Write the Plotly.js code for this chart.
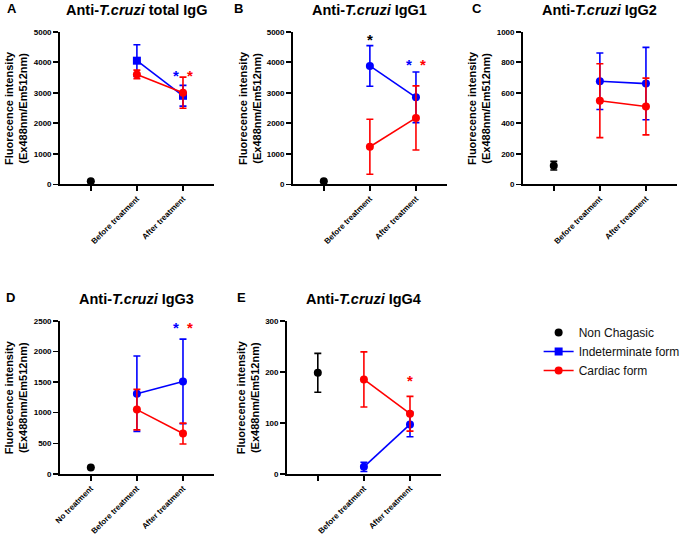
<!DOCTYPE html>
<html><head><meta charset="utf-8">
<script src="https://cdn.plot.ly/plotly-3.0.1.min.js"></script>
<style>html,body{margin:0;padding:0;background:#fff}#chart{width:685px;height:537px}</style>
</head><body><div id="chart"></div><script>
// ---------- data ----------
const categories = ['Non Chagasic', 'Before treatment', 'After treatment'];
const treatmentCats = ['Before treatment', 'After treatment'];
const tickLabelsDefault = ['', 'Before treatment', 'After treatment'];
const tickLabelsIgG3 = ['No treatment', 'Before treatment', 'After treatment'];
const seriesNames = ['Non Chagasic', 'Indeterminate form', 'Cardiac form'];

// A: total IgG
const totalIgG_non = [100], totalIgG_nonErr = [0];
const totalIgG_ind = [4050, 2900], totalIgG_indErr = [520, 340];
const totalIgG_card = [3600, 3000], totalIgG_cardErr = [140, 510];
const totalIgG_stars = [['ind', 'After treatment', 3710], ['card', 'After treatment', 3710]];

// B: IgG1
const igg1_non = [100], igg1_nonErr = [0];
const igg1_ind = [3880, 2850], igg1_indErr = [665, 830];
const igg1_card = [1230, 2175], igg1_cardErr = [900, 1050];
const igg1_stars = [['non', 'Before treatment', 4890], ['ind', 'After treatment', 4050], ['card', 'After treatment', 4050]];

// C: IgG2
const igg2_non = [122], igg2_nonErr = [28];
const igg2_ind = [675, 660], igg2_indErr = [185, 237];
const igg2_card = [548, 510], igg2_cardErr = [242, 186];
const igg2_stars = [];

// D: IgG3
const igg3_non = [105], igg3_nonErr = [0];
const igg3_ind = [1310, 1510], igg3_indErr = [615, 690];
const igg3_card = [1050, 660], igg3_cardErr = [330, 170];
const igg3_stars = [['ind', 'After treatment', 2456], ['card', 'After treatment', 2456]];

// E: IgG4
const igg4_non = [198], igg4_nonErr = [38];
const igg4_ind = [14, 97], igg4_indErr = [9, 24];
const igg4_card = [185, 118], igg4_cardErr = [54, 34];
const igg4_stars = [['card', 'After treatment', 190]];

// ---------- layout helpers ----------
const W = 685, H = 537;
const FONT = 'Liberation Sans, Arial, Helvetica, sans-serif';
const COL = {non: '#000000', ind: '#0000ff', card: '#ff0000'};

const panels = [
  {letter: 'A', title: 'Anti-<i>T.cruzi</i> total IgG', x0: 60, top: 31.7, bottom: 184.3, yrange: [0, 5000], dtick: 1000,
   ticks: tickLabelsDefault, non: totalIgG_non, nonErr: totalIgG_nonErr, ind: totalIgG_ind, indErr: totalIgG_indErr,
   card: totalIgG_card, cardErr: totalIgG_cardErr, stars: totalIgG_stars, indSymbol: 'square', ytitleX: 16, letterX: 5},
  {letter: 'B', title: 'Anti-<i>T.cruzi</i> IgG1', x0: 294, top: 31.7, bottom: 184.3, yrange: [0, 5000], dtick: 1000,
   ticks: tickLabelsDefault, non: igg1_non, nonErr: igg1_nonErr, ind: igg1_ind, indErr: igg1_indErr,
   card: igg1_card, cardErr: igg1_cardErr, stars: igg1_stars, indSymbol: 'circle', ytitleX: 251, letterX: 233},
  {letter: 'C', title: 'Anti-<i>T.cruzi</i> IgG2', x0: 525, top: 31.7, bottom: 184.3, yrange: [0, 1000], dtick: 200,
   ticks: tickLabelsDefault, non: igg2_non, nonErr: igg2_nonErr, ind: igg2_ind, indErr: igg2_indErr,
   card: igg2_card, cardErr: igg2_cardErr, stars: igg2_stars, indSymbol: 'circle', ytitleX: 481, letterX: 472},
  {letter: 'D', title: 'Anti-<i>T.cruzi</i> IgG3', x0: 60, top: 320.7, bottom: 474, yrange: [0, 2500], dtick: 500,
   ticks: tickLabelsIgG3, non: igg3_non, nonErr: igg3_nonErr, ind: igg3_ind, indErr: igg3_indErr,
   card: igg3_card, cardErr: igg3_cardErr, stars: igg3_stars, indSymbol: 'circle', ytitleX: 16, letterX: 4},
  {letter: 'E', title: 'Anti-<i>T.cruzi</i> IgG4', x0: 288, top: 320.7, bottom: 474, yrange: [0, 300], dtick: 100,
   ticks: tickLabelsDefault, non: igg4_non, nonErr: igg4_nonErr, ind: igg4_ind, indErr: igg4_indErr,
   card: igg4_card, cardErr: igg4_cardErr, stars: igg4_stars, indSymbol: 'circle', ytitleX: 249, letterX: 236}
];
const AXW = 155;

const traces = [];
const annotations = [];
const layout = {
  width: W, height: H, margin: {l: 0, r: 0, t: 0, b: 0},
  paper_bgcolor: '#fff', plot_bgcolor: 'rgba(0,0,0,0)',
  font: {family: FONT, color: '#000'},
  showlegend: true,
  legend: {x: 541 / W, y: 1 - 318 / H, xanchor: 'left', yanchor: 'top', font: {family: FONT, size: 12, color: '#111'},
           bgcolor: 'rgba(0,0,0,0)', itemwidth: 30, tracegroupgap: 0},
  annotations: annotations
};

function errObj(arr, color) {
  return {type: 'data', array: arr, visible: true, color: color, thickness: 1.6, width: 3.5};
}

panels.forEach((p, i) => {
  const n = i === 0 ? '' : String(i + 1);
  const xa = 'x' + n, ya = 'y' + n;
  layout['xaxis' + n] = {
    domain: [p.x0 / W, (p.x0 + AXW) / W], anchor: ya, type: 'category',
    categoryorder: 'array', categoryarray: categories, range: [-0.674, 2.674],
    tickvals: categories, ticktext: p.ticks, tickangle: -45,
    showline: true, linecolor: '#000', linewidth: 1.6, ticks: 'outside', ticklen: 5, tickwidth: 1.6, tickcolor: '#000',
    showgrid: false, zeroline: false, fixedrange: true,
    tickfont: {family: FONT, size: 8, color: '#000', weight: 'bold'}
  };
  layout['yaxis' + n] = {
    domain: [1 - p.bottom / H, 1 - p.top / H], anchor: xa, range: p.yrange, dtick: p.dtick, tick0: 0,
    showline: true, linecolor: '#000', linewidth: 1.6, ticks: 'outside', ticklen: 5, tickwidth: 1.6, tickcolor: '#000',
    showgrid: false, zeroline: false, fixedrange: true,
    tickfont: {family: FONT, size: 8, color: '#000', weight: 'bold'}
  };
  const leg = i === 0;
  traces.push({
    x: [categories[0]], y: p.non, error_y: errObj(p.nonErr, COL.non), xaxis: xa, yaxis: ya,
    type: 'scatter', mode: 'markers', name: seriesNames[0], showlegend: leg, legendrank: 1,
    marker: {color: COL.non, size: 8, symbol: 'circle'}, cliponaxis: false
  });
  traces.push({
    x: treatmentCats, y: p.ind, error_y: errObj(p.indErr, COL.ind), xaxis: xa, yaxis: ya,
    type: 'scatter', mode: 'lines+markers', name: seriesNames[1], showlegend: leg, legendrank: 2,
    line: {color: COL.ind, width: 1.6}, marker: {color: COL.ind, size: p.indSymbol === 'square' ? 8 : 8, symbol: p.indSymbol},
    cliponaxis: false
  });
  traces.push({
    x: treatmentCats, y: p.card, error_y: errObj(p.cardErr, COL.card), xaxis: xa, yaxis: ya,
    type: 'scatter', mode: 'lines+markers', name: seriesNames[2], showlegend: leg, legendrank: 3,
    line: {color: COL.card, width: 1.6}, marker: {color: COL.card, size: 8, symbol: 'circle'},
    cliponaxis: false
  });
  // stars
  const pairShift = p.stars.filter(s => s[1] === 'After treatment').length > 1;
  p.stars.forEach(s => {
    let xs = 0;
    if (pairShift && s[1] === 'After treatment') xs = s[0] === 'ind' ? -7 : 7;
    annotations.push({
      xref: xa, yref: ya, x: s[1], y: s[2], text: '*', showarrow: false, xshift: xs, yshift: -4,
      font: {family: FONT, size: 15, color: COL[s[0]], weight: 'bold'}, xanchor: 'center', yanchor: 'middle'
    });
  });
  // panel title
  annotations.push({
    xref: 'paper', yref: 'paper', x: (p.x0 + AXW / 2) / W, y: 1 - (p.top - 22) / H,
    text: '<b>' + p.title + '</b>', showarrow: false, xanchor: 'center', yanchor: 'middle',
    font: {family: FONT, size: 14.5, color: '#000'}
  });
  // panel letter
  annotations.push({
    xref: 'paper', yref: 'paper', x: p.letterX / W, y: 1 - (p.top - 23) / H,
    text: '<b>' + p.letter + '</b>', showarrow: false, xanchor: 'left', yanchor: 'middle',
    font: {family: FONT, size: 13, color: '#000'}
  });
  // y-axis title
  annotations.push({
    xref: 'paper', yref: 'paper', x: p.ytitleX / W, y: 1 - ((p.top + p.bottom) / 2) / H,
    text: '<b>Fluorecence intensity<br>(Ex488nm/Em512nm)</b>', showarrow: false, textangle: -90,
    xanchor: 'center', yanchor: 'middle', font: {family: FONT, size: 11, color: '#000'}
  });
});

Plotly.newPlot('chart', traces, layout, {displayModeBar: false, staticPlot: true});
</script></body></html>
